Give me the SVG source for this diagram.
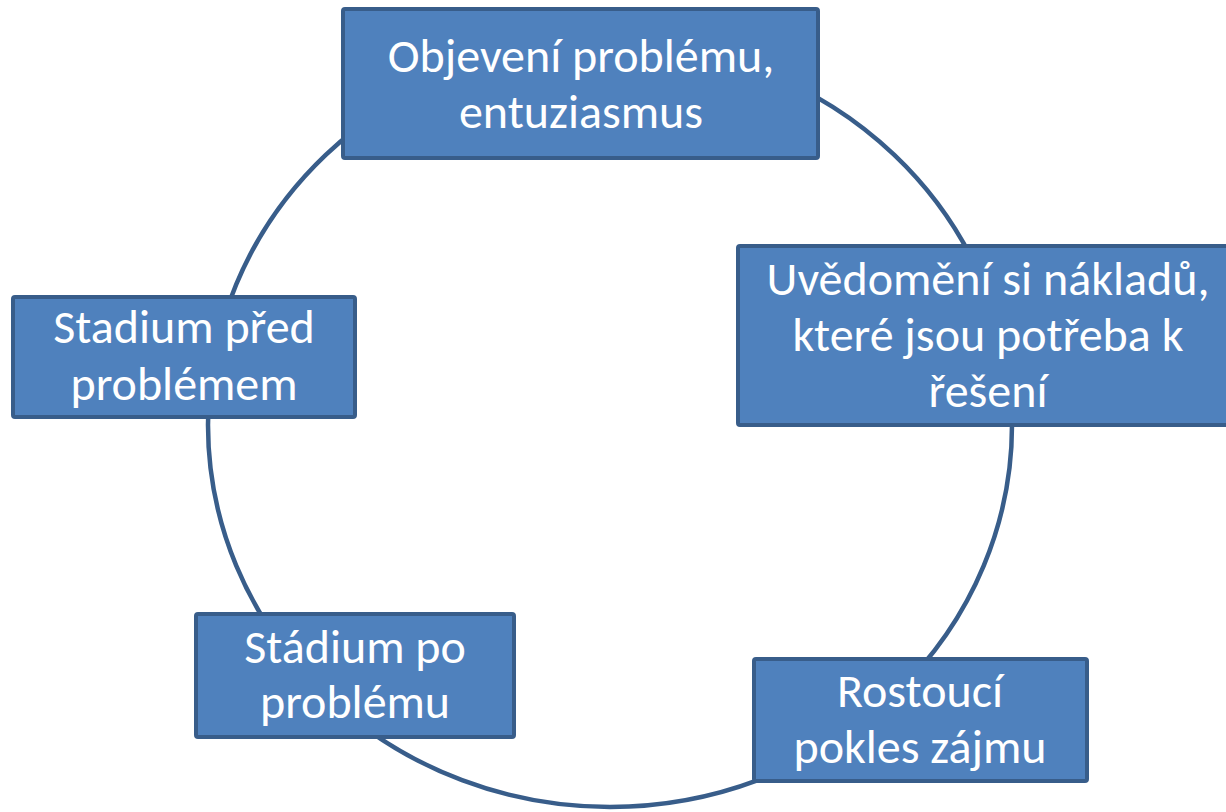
<svg xmlns="http://www.w3.org/2000/svg" width="1226" height="812" viewBox="0 0 1226 812">
<style>
.box{fill:#4f81bd;stroke:#385d8a;stroke-width:4}
.lbl{font-family:Carlito,Lato,"Liberation Sans",sans-serif;font-size:48px;fill:#ffffff;text-anchor:middle}
.ring{fill:none;stroke:#385d8a;stroke-width:4.5}
</style>
<rect width="1226" height="812" fill="#ffffff"/>
<g id="connectors">
<ellipse class="ring" cx="610" cy="425" rx="402" ry="382"/>
</g>
<g id="node-top">
<rect class="box" x="343" y="9" width="475" height="149" rx="2"/>
<text class="lbl" x="581" y="72">Objevení problému,</text>
<text class="lbl" x="581" y="128">entuziasmus</text>
</g>
<g id="node-right">
<rect class="box" x="738" y="246" width="500" height="179" rx="2"/>
<text class="lbl" x="988" y="295">Uvědomění si nákladů,</text>
<text class="lbl" x="988" y="351">které jsou potřeba k</text>
<text class="lbl" x="988" y="407">řešení</text>
</g>
<g id="node-bottom-right">
<rect class="box" x="754" y="659" width="333" height="122" rx="2"/>
<text class="lbl" x="920" y="707">Rostoucí</text>
<text class="lbl" x="920" y="763">pokles zájmu</text>
</g>
<g id="node-bottom-left">
<rect class="box" x="196" y="614" width="318" height="123" rx="2"/>
<text class="lbl" x="355" y="663">Stádium po</text>
<text class="lbl" x="355" y="718">problému</text>
</g>
<g id="node-left">
<rect class="box" x="13" y="297" width="342" height="120" rx="2"/>
<text class="lbl" x="184" y="343">Stadium před</text>
<text class="lbl" x="184" y="400">problémem</text>
</g>
</svg>
